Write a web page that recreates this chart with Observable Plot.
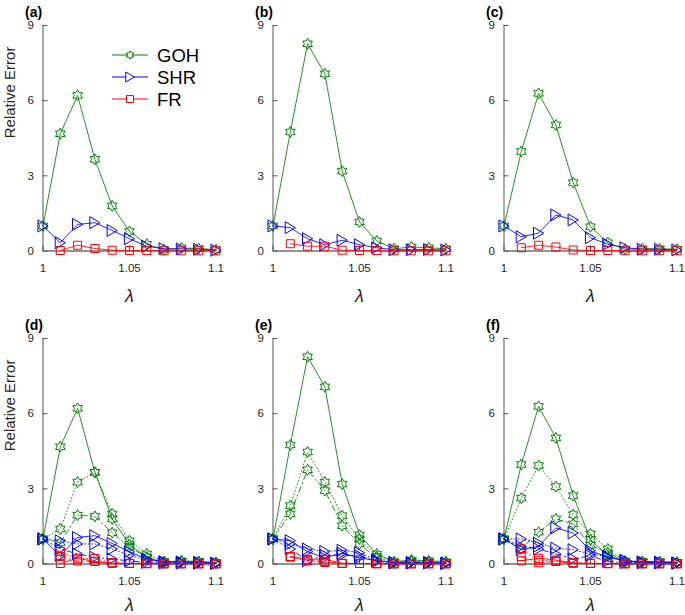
<!DOCTYPE html>
<html><head><meta charset="utf-8">
<script src="https://cdn.jsdelivr.net/npm/d3@7"></script>
<script src="https://cdn.jsdelivr.net/npm/@observablehq/plot@0.6"></script>
<style>
body{margin:0;background:#fff;}
#wrap{position:relative;width:685px;height:615px;overflow:hidden;font-family:"Liberation Sans",Arial,sans-serif;}
.panel{position:absolute;}
#legend{position:absolute;left:0;top:0;}
</style></head><body><div id="wrap"></div>
<script>
// ---------- data ----------
const lambda = [1, 1.01, 1.02, 1.03, 1.04, 1.05, 1.06, 1.07, 1.08, 1.09, 1.1];
const xTicks = [1, 1.05, 1.1];
const yTicks = [0, 3, 6, 9];
const methods = ["GOH", "SHR", "FR"];
const panelLabels = ["(a)", "(b)", "(c)", "(d)", "(e)", "(f)"];
const yLabel = "Relative Error";
const xLabel = "λ";

// top row (single setting, solid lines; reused as solid lines in bottom row)
const gohA = [1.0, 4.68, 6.21, 3.66, 1.80, 0.78, 0.27, 0.05, 0.12, 0.10, 0.05];
const shrA = [1.0, 0.33, 1.06, 1.13, 0.82, 0.49, 0.19, 0.09, 0.08, 0.07, 0.03];
const frA  = [null, 0.02, 0.23, 0.10, 0.03, 0.02, 0.02, 0.01, 0.01, 0.01, 0.01];

const gohB = [1.0, 4.75, 8.27, 7.07, 3.19, 1.16, 0.40, 0.09, 0.16, 0.13, 0.09];
const shrB = [1.0, 0.93, 0.49, 0.25, 0.43, 0.25, 0.13, 0.05, 0.05, 0.06, 0.04];
const frB  = [null, 0.29, 0.19, 0.19, 0.03, 0.02, 0.02, 0.01, 0.01, 0.01, 0.01];

const gohC = [1.0, 3.97, 6.29, 5.03, 2.73, 0.97, 0.33, 0.07, 0.09, 0.09, 0.07];
const shrC = [1.0, 0.57, 0.71, 1.44, 1.24, 0.53, 0.27, 0.13, 0.07, 0.07, 0.04];
const frC  = [null, 0.13, 0.23, 0.16, 0.04, 0.02, 0.02, 0.01, 0.01, 0.01, 0.01];

// bottom row extra settings (dotted and dash-dot)
const gohDDot  = [1.0, 1.40, 3.27, 3.66, 2.00, 0.93, 0.40, 0.10, 0.12, 0.10, 0.05];
const gohDDash = [1.0, 0.85, 1.95, 1.90, 1.25, 0.67, 0.27, 0.08, 0.10, 0.08, 0.05];
const shrDDot  = [1.0, 0.93, 0.80, 0.80, 0.60, 0.35, 0.15, 0.08, 0.06, 0.05, 0.03];
const shrDDash = [1.0, 0.60, 0.40, 0.27, 0.20, 0.12, 0.06, 0.04, 0.04, 0.03, 0.02];
const frDDot   = [null, 0.50, 0.20, 0.22, 0.05, 0.03, 0.02, 0.01, 0.01, 0.01, 0.01];
const frDDash  = [null, 0.30, 0.12, 0.10, 0.03, 0.02, 0.01, 0.01, 0.01, 0.01, 0.01];

const gohEDot  = [1.0, 2.33, 4.47, 3.27, 1.93, 1.00, 0.30, 0.08, 0.12, 0.10, 0.07];
const gohEDash = [1.0, 2.00, 3.76, 2.93, 1.53, 0.80, 0.23, 0.06, 0.10, 0.08, 0.06];
const shrEDot  = [1.0, 0.80, 0.60, 0.50, 0.55, 0.45, 0.15, 0.06, 0.05, 0.05, 0.03];
const shrEDash = [1.0, 0.60, 0.13, 0.35, 0.35, 0.33, 0.10, 0.05, 0.04, 0.04, 0.02];
const frEDot   = [null, 0.30, 0.12, 0.06, 0.02, 0.02, 0.01, 0.01, 0.01, 0.01, 0.01];
const frEDash  = [null, 0.28, 0.15, 0.10, 0.02, 0.02, 0.01, 0.01, 0.01, 0.01, 0.01];

const gohFDot  = [1.0, 2.63, 3.93, 3.09, 1.97, 1.20, 0.60, 0.12, 0.10, 0.09, 0.07];
const gohFDash = [1.0, 0.60, 1.27, 1.80, 1.60, 0.75, 0.45, 0.10, 0.09, 0.08, 0.06];
const shrFDot  = [1.0, 1.00, 0.83, 0.63, 0.57, 0.40, 0.30, 0.15, 0.08, 0.06, 0.04];
const shrFDash = [1.0, 0.70, 0.60, 0.40, 0.20, 0.33, 0.10, 0.06, 0.05, 0.04, 0.03];
const frFDot   = [null, 0.60, 0.15, 0.12, 0.05, 0.03, 0.02, 0.01, 0.01, 0.01, 0.01];
const frFDash  = [null, 0.30, 0.05, 0.10, 0.03, 0.02, 0.01, 0.01, 0.01, 0.01, 0.01];

// ---------- styles ----------
const colors = {GOH: "#008000", SHR: "#0000ff", FR: "#ff0000"};
const dashes = {solid: null, dot: "1,2.5", dashdot: "6,3,1.5,3"};
const hexagram = {draw(ctx, size) {
  const r = Math.sqrt(size / Math.PI), ri = r / Math.sqrt(3);
  for (let k = 0; k < 12; k++) {
    const a = -Math.PI / 2 + k * Math.PI / 6, rr = k % 2 ? ri : r;
    const px = rr * Math.cos(a), py = rr * Math.sin(a);
    k ? ctx.lineTo(px, py) : ctx.moveTo(px, py);
  }
  ctx.closePath();
}};
const triRight = {draw(ctx, size) {
  const r = Math.sqrt(size / Math.PI);
  ctx.moveTo(0.85 * r, 0); ctx.lineTo(-0.85 * r, -r); ctx.lineTo(-0.85 * r, r); ctx.closePath();
}};
const squareSym = {draw(ctx, size) {
  const r = Math.sqrt(size / Math.PI);
  ctx.rect(-r, -r, 2 * r, 2 * r);
}};
const symbols = {GOH: hexagram, SHR: triRight, FR: squareSym};
const radii = {GOH: 5.5, SHR: 6, FR: 4};

const topSeries = [
  {GOH: gohA, SHR: shrA, FR: frA},
  {GOH: gohB, SHR: shrB, FR: frB},
  {GOH: gohC, SHR: shrC, FR: frC}
];
const dotSeries = [
  {GOH: gohDDot, SHR: shrDDot, FR: frDDot},
  {GOH: gohEDot, SHR: shrEDot, FR: frEDot},
  {GOH: gohFDot, SHR: shrFDot, FR: frFDot}
];
const dashSeries = [
  {GOH: gohDDash, SHR: shrDDash, FR: frDDash},
  {GOH: gohEDash, SHR: shrEDash, FR: frEDash},
  {GOH: gohFDash, SHR: shrFDash, FR: frFDash}
];

const W = 230, H = 302;
const ML = 42.5, MR = 14.5, MT = 25, MB = 51.5;
const panelPos = [[0, 0], [230, 0], [461, 0], [0, 313], [230, 313], [461, 313]];

function makePanel(idx) {
  const col = idx % 3, bottom = idx >= 3;
  const sets = bottom
    ? [["solid", topSeries[col]], ["dot", dotSeries[col]], ["dashdot", dashSeries[col]]]
    : [["solid", topSeries[col]]];
  const marks = [
    Plot.ruleY([yTicks[0]], {stroke: "#262626", strokeWidth: 1}),
    Plot.ruleX([lambda[0]], {stroke: "#555", strokeWidth: 1}),
    Plot.tickY(yTicks, {y: d => d, stroke: "#555", insetRight: (W - ML - MR) - 5}),
    Plot.tickX(xTicks, {x: d => d, stroke: "#555", insetTop: (H - MT - MB) - 5}),
    Plot.axisX(xTicks, {tickSize: 0, tickPadding: 13, label: null, fontSize: 11.5, tickFormat: d => String(d), color: "#262626"}),
    Plot.axisY(yTicks, {tickSize: 0, tickPadding: 9, label: null, fontSize: 11.5, color: "#262626"})
  ];
  for (const m of methods) {
    for (const [style, ser] of sets) {
      const rows = lambda.map((x, i) => ({x, y: ser[m][i]}));
      marks.push(Plot.line(rows, {x: "x", y: "y", stroke: colors[m], strokeWidth: 1,
        strokeDasharray: dashes[style], strokeOpacity: 0.85}));
      marks.push(Plot.dot(rows.filter(d => d.y != null), {x: "x", y: "y", symbol: symbols[m], r: radii[m],
        stroke: colors[m], fill: "none", strokeWidth: 1}));
    }
  }
  marks.push(Plot.text([panelLabels[idx]], {text: d => d, frameAnchor: "top-left", dx: -18, dy: -13,
    lineAnchor: "middle", fontWeight: "bold", fontSize: 14, fill: "#000", textAnchor: "start"}));
  marks.push(Plot.text([xLabel], {text: d => d, frameAnchor: "bottom", dy: bottom ? 41 : 45, lineAnchor: "middle",
    fontSize: 18, fontStyle: "italic", fill: "#262626"}));
  if (col === 0) {
    marks.push(Plot.text([yLabel], {text: d => d, frameAnchor: "left", dx: -33, rotate: -90,
      lineAnchor: "middle", fontSize: 15, fill: "#262626"}));
  }
  const svg = Plot.plot({
    width: W, height: H,
    marginLeft: ML, marginRight: MR, marginTop: MT, marginBottom: MB,
    x: {domain: [lambda[0], lambda[lambda.length - 1]]},
    y: {domain: [yTicks[0], yTicks[yTicks.length - 1]]},
    style: {fontFamily: "'Liberation Sans', Arial, sans-serif", fontSize: "11.5px", color: "#262626", background: "transparent", overflow: "visible"},
    marks
  });
  svg.classList.add("panel");
  svg.style.left = panelPos[idx][0] + "px";
  svg.style.top = panelPos[idx][1] + "px";
  return svg;
}

const wrap = document.getElementById("wrap");
for (let i = 0; i < 6; i++) wrap.appendChild(makePanel(i));

// ---------- legend (inside panel a) ----------
const lg = d3.select(wrap).append("svg").attr("id", "legend").attr("width", 230).attr("height", 120)
  .style("font-family", "'Liberation Sans', Arial, sans-serif");
methods.forEach((m, i) => {
  const cy = 55 + i * 22;
  const g = lg.append("g");
  g.append("line").attr("x1", 112).attr("x2", 148).attr("y1", cy).attr("y2", cy)
    .attr("stroke", colors[m]).attr("stroke-width", 1);
  const p = d3.path();
  const r = [4.2, 5, 3.5][i];
  symbols[m].draw(p, r * r * Math.PI);
  g.append("path").attr("d", p.toString()).attr("transform", `translate(130,${cy})`)
    .attr("fill", "#fff").attr("stroke", colors[m]).attr("stroke-width", 1);
  g.append("text").attr("x", 157).attr("y", cy).attr("dy", "0.36em").attr("font-size", 18.5)
    .attr("fill", "#000").text(m);
});
</script></body></html>
